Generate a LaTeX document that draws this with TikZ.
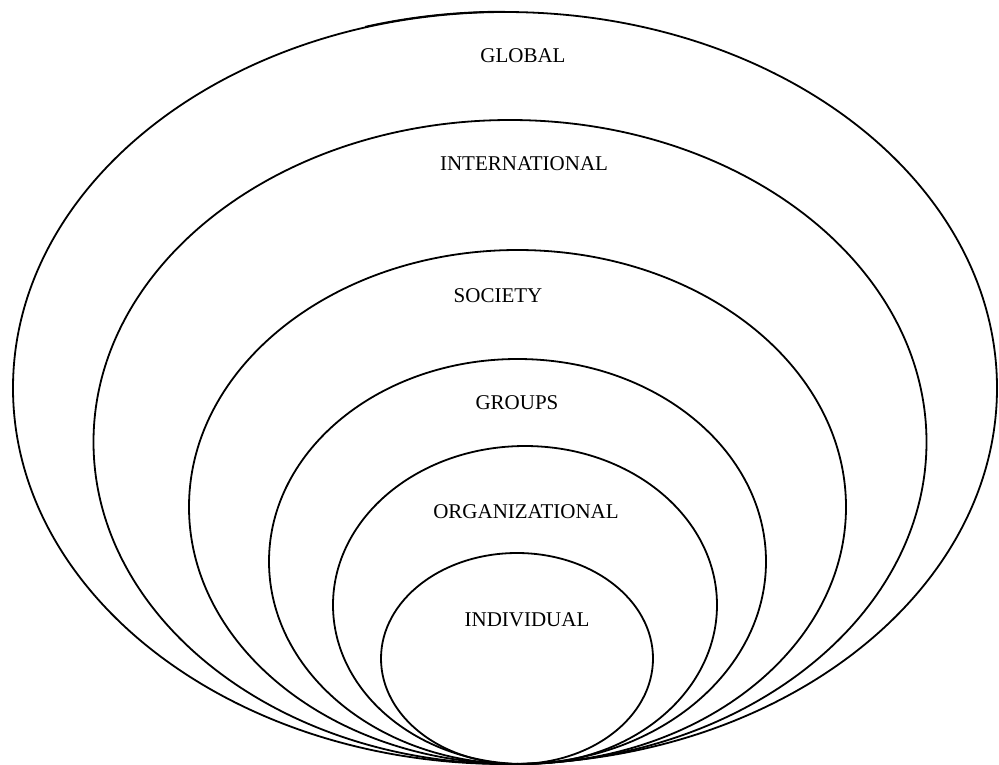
\documentclass[tikz,border=0pt]{standalone}
\usepackage{fontspec}
\setmainfont{Liberation Serif}
\begin{document}
\begin{tikzpicture}[x=1pt,y=-1pt,
  ring/.style={draw=black,line width=1.8pt},
  lbl/.style={font=\fontsize{21}{24}\selectfont,inner sep=0pt,anchor=center}]
\useasboundingbox (0,0) rectangle (999,764);
\fill[white] (0,0) rectangle (999,764);
% nested ellipses, all touching at the bottom
\draw[ring] (505,388) ellipse [x radius=492pt, y radius=376pt];
\begin{scope}
\clip (365,0) rectangle (505,40);
\draw[ring] (503.5,389.5) ellipse [x radius=492pt, y radius=377.8pt];
\end{scope}
\draw[ring] (510,442) ellipse [x radius=416.5pt, y radius=322pt];
\draw[ring] (517.5,507) ellipse [x radius=328.5pt, y radius=257pt];
\draw[ring] (517.5,561.5) ellipse [x radius=248.5pt, y radius=202.5pt];
\draw[ring] (525,605) ellipse [x radius=192pt, y radius=159pt];
\draw[ring] (517,658.5) ellipse [x radius=136pt, y radius=105.5pt];
% labels
\node[lbl] (global) at (523,56) {GLOBAL};
\node[lbl] (intl) at (524,164) {INTERNATIONAL};
\node[lbl] (soc) at (498,296) {SOCIETY};
\node[lbl] (grp) at (517,403) {GROUPS};
\node[lbl] (org) at (526,512) {ORGANIZATIONAL};
\node[lbl] (ind) at (527,620) {INDIVIDUAL};
\end{tikzpicture}
\end{document}
